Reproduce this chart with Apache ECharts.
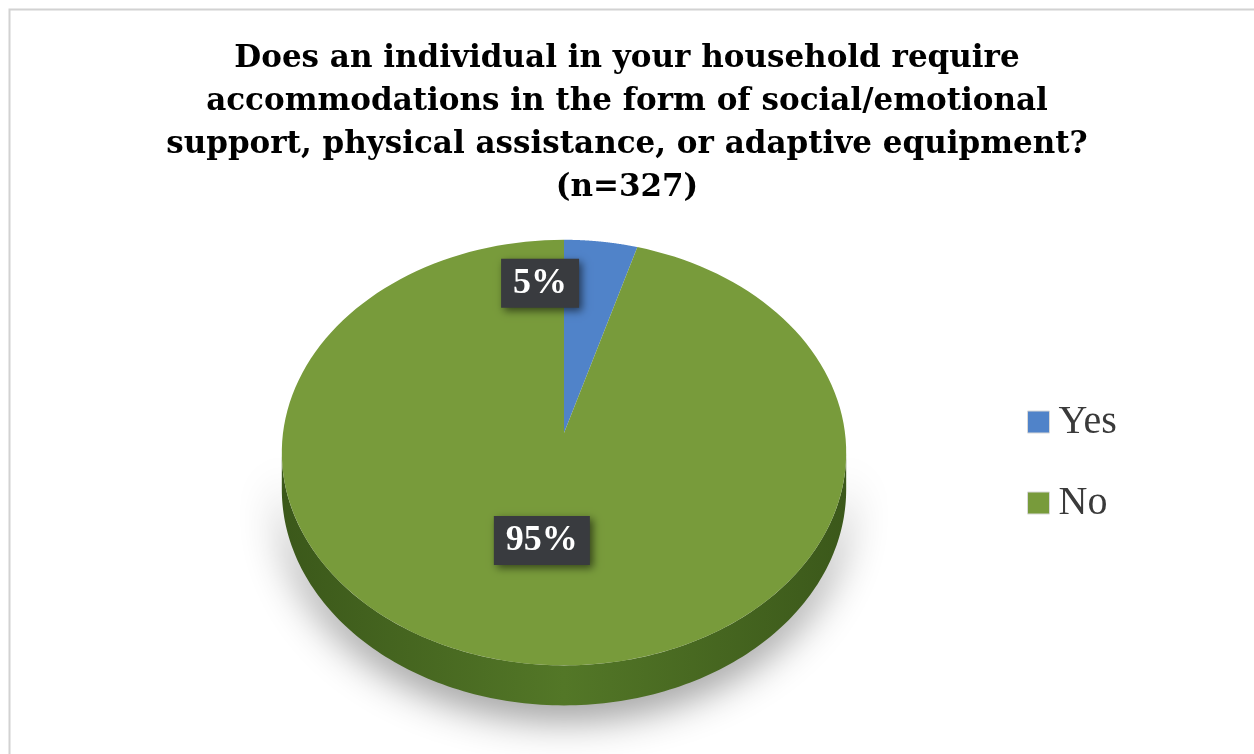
<!DOCTYPE html>
<html>
<head>
<meta charset="utf-8">
<script src="https://cdn.jsdelivr.net/npm/echarts@6/dist/echarts.min.js"></script>
<style>
  html, body { margin: 0; padding: 0; background: #fff; }
  #main { width: 1254px; height: 754px; }
</style>
</head>
<body>
<div id="main"></div>
<script>
const titleText = 'Does an individual in your household require\naccommodations in the form of social/emotional\nsupport, physical assistance, or adaptive equipment?\n(n=327)';
const categories = ['Yes', 'No'];
const counts = [15, 312];
const topColors = ['#5083c9', '#789b3b'];
const wallColors = [['#2c5890', '#3b6aa8'], ['#3b581a', '#537727']];

// pie geometry, with a little perspective so the far side looks smaller
const cx = 564, cy = 433, rx = 281, ry = 211, persp = 0.092, depth = 40;
const labelPlace = [{ r: 0.8, dx: -54, dy: 6 }, { r: 0.5, dx: -1, dy: -2 }];

function proj(u, v, dy) {
    const w = 1 + persp * v;
    return [cx + rx * u / w, cy - ry * v / w + (dy || 0) * (1 - persp) / w];
}

function rim(a, dy) {
    return proj(Math.sin(a), Math.cos(a), dy);
}

function renderSlice(params, api) {
    const i = params.seriesIndex;
    const total = counts.reduce((s, v) => s + v, 0);
    const before = counts.slice(0, i).reduce((s, v) => s + v, 0);
    const val = api.value(0);
    const a0 = before / total * Math.PI * 2;
    const a1 = (before + val) / total * Math.PI * 2;
    const steps = 160;
    const children = [];

    const edge = Math.acos(-persp);
    const w0 = Math.max(a0, edge);
    const w1 = Math.min(a1, Math.PI * 2 - edge);
    if (w1 > w0) {
        const upper = [], lower = [];
        for (let k = 0; k <= steps; k++) {
            const a = w0 + (w1 - w0) * k / steps;
            upper.push(rim(a));
            lower.push(rim(a, depth));
        }
        children.push({
            type: 'polygon',
            shape: { points: upper.concat(lower.reverse()) },
            style: {
                fill: {
                    type: 'linear', x: 0, y: 0, x2: 1, y2: 0,
                    colorStops: [
                        { offset: 0, color: wallColors[i][0] },
                        { offset: 0.5, color: wallColors[i][1] },
                        { offset: 1, color: wallColors[i][0] }
                    ]
                },
                shadowBlur: 40,
                shadowColor: 'rgba(0,0,0,0.45)',
                shadowOffsetY: 12
            }
        });
    }

    const top = [proj(0, 0)];
    for (let k = 0; k <= steps; k++) {
        top.push(rim(a0 + (a1 - a0) * k / steps));
    }
    children.push({
        type: 'polygon',
        shape: { points: top },
        style: { fill: topColors[i] }
    });

    const mid = (a0 + a1) / 2;
    const lp = labelPlace[i];
    const at = proj(lp.r * Math.sin(mid), lp.r * Math.cos(mid));
    children.push({
        type: 'text',
        z2: 100,
        x: at[0] + lp.dx,
        y: at[1] + lp.dy,
        style: {
            text: Math.round(val / total * 100) + '%',
            fill: '#ffffff',
            font: 'bold 36px "Liberation Serif"',
            align: 'center',
            verticalAlign: 'middle',
            backgroundColor: '#393b3f',
            padding: [7, 12, 6, 12],
            shadowBlur: 8,
            shadowColor: 'rgba(0,0,0,0.55)',
            shadowOffsetX: 3,
            shadowOffsetY: 3
        }
    });

    return { type: 'group', children: children };
}

const chart = echarts.init(document.getElementById('main'));

const series = categories.map((name, i) => ({
    name: name,
    type: 'custom',
    coordinateSystem: 'none',
    renderItem: renderSlice,
    itemStyle: { color: topColors[i] },
    data: [[counts[i]]]
}));

chart.setOption({
    animation: false,
    title: {
        text: titleText,
        left: 'center',
        top: 37,
        padding: 0,
        textStyle: {
            fontFamily: 'DejaVu Serif',
            fontWeight: 'bold',
            fontSize: 31,
            lineHeight: 43,
            color: '#000'
        }
    },
    legend: {
        data: categories,
        orient: 'vertical',
        left: 1027,
        top: 402,
        padding: 0,
        icon: 'rect',
        itemWidth: 22,
        itemHeight: 22,
        itemGap: 41,
        itemStyle: { borderColor: '#d8d8d8', borderWidth: 1 },
        textStyle: {
            fontFamily: 'Liberation Serif',
            fontSize: 40,
            lineHeight: 40,
            color: '#3a3a3a',
            padding: [0, 0, 0, 4]
        }
    },
    graphic: [{
        type: 'rect',
        left: 7,
        top: 7,
        shape: { width: 1260, height: 760 },
        style: { fill: 'none', stroke: '#d2d2d2', lineWidth: 2 },
        silent: true
    }],
    series: series
});
</script>
</body>
</html>
